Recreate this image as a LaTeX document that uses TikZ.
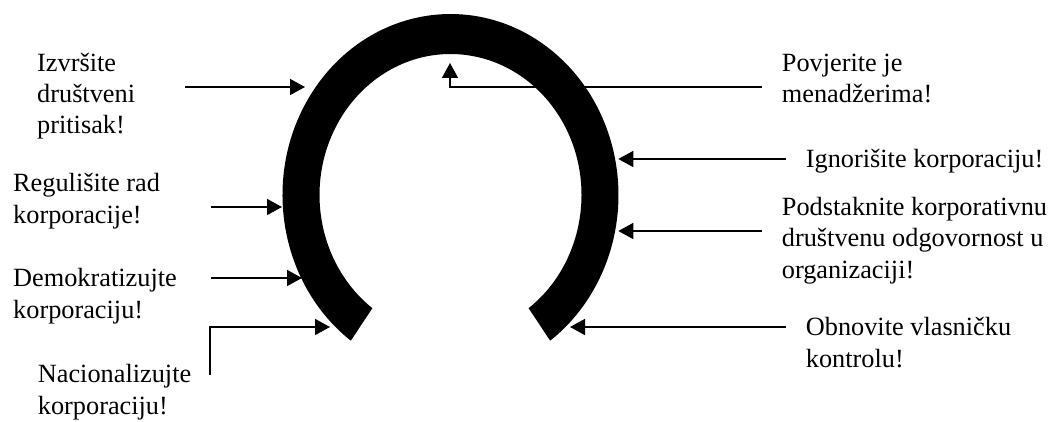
\documentclass[tikz,border=0pt]{standalone}
\usepackage{fontspec}
\setmainfont{Liberation Serif}
\usetikzlibrary{arrows.meta}
\begin{document}
\begin{tikzpicture}[x=1pt,y=1pt,
  lbl/.style={anchor=base west,inner sep=0pt,align=left,font=\fontsize{26.3}{31.5}\selectfont},
  conn/.style={line width=1.5pt,-{Triangle[length=15pt,width=16pt]}}]
\useasboundingbox[fill=white] (0,0) rectangle (1052,421);
% ring
\fill[black] (350.8,80.3) arc[start angle=233.6,end angle=-53.6,x radius=168,y radius=181]
  -- (528.6,112.8) arc[start angle=-53.4,end angle=233.4,x radius=131,y radius=141] -- cycle;
% labels (anchored at the baseline of the last line)
\node[lbl] (l1) at (37,287) {Izvršite\\društveni\\pritisak!};
\node[lbl] (l2) at (13,198) {Regulišite rad\\korporacije!};
\node[lbl] (l3) at (13,103) {Demokratizujte\\korporaciju!};
\node[lbl] (l4) at (37.7,7) {Nacionalizujte\\korporaciju!};
\node[lbl] (r1) at (781.7,318) {Povjerite je\\menadžerima!};
\node[lbl] (r2) at (805.7,253) {Ignorišite korporaciju!};
\node[lbl] (r3) at (781.7,143) {Podstaknite korporativnu\\društvenu odgovornost u\\organizaciji!};
\node[lbl] (r4) at (805.7,54) {Obnovite vlasničku\\kontrolu!};
% connector ends
\coordinate (s1) at (185,334); \coordinate (t1) at (305,334);
\coordinate (s2) at (211,214); \coordinate (t2) at (282,214);
\coordinate (s3) at (211,143); \coordinate (t3) at (302,143);
\coordinate (s4) at (210,46);  \coordinate (t4) at (330,94);
\coordinate (s5) at (761.7,334); \coordinate (t5) at (450,358);
\coordinate (s6) at (785.7,262); \coordinate (t6) at (618.3,262);
\coordinate (s7) at (761.7,190); \coordinate (t7) at (618.3,190);
\coordinate (s8) at (785.7,94); \coordinate (t8) at (570,94);
% connectors
\draw[conn] (s1) -- (t1);
\draw[conn] (s2) -- (t2);
\draw[conn] (s3) -- (t3);
\draw[conn] (s4) |- (t4);
\draw[conn] (s5) -| (t5);
\draw[conn] (s6) -- (t6);
\draw[conn] (s7) -- (t7);
\draw[conn] (s8) -- (t8);
\end{tikzpicture}
\end{document}
